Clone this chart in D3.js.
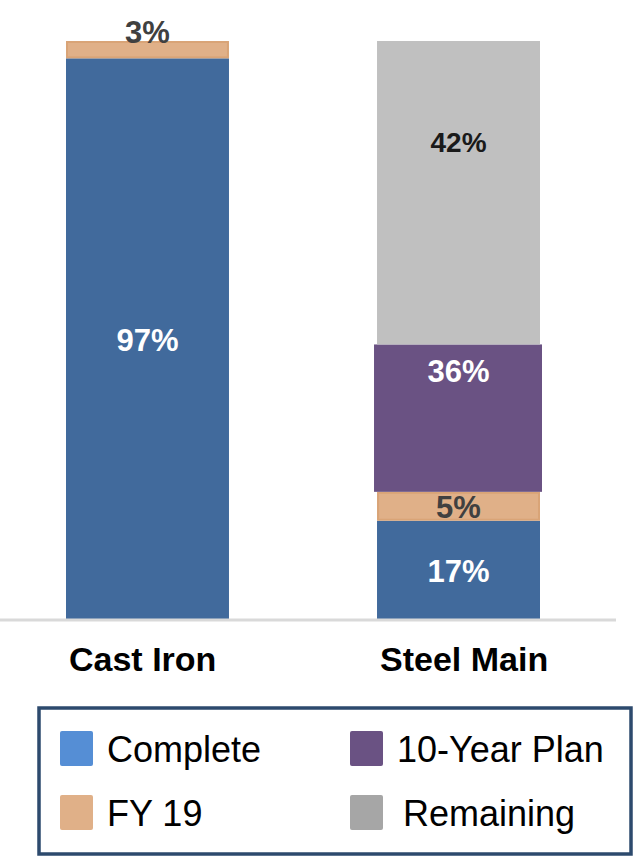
<!DOCTYPE html>
<html>
<head>
<meta charset="utf-8">
<script src="https://cdn.jsdelivr.net/npm/d3@7"></script>
<style>
  body { margin: 0; background: #fff; }
  text { font-family: "Liberation Sans", Arial, sans-serif; }
</style>
</head>
<body>
<svg id="chart" width="633" height="857"></svg>
<script>
// categories and segment values (as drawn, in % of bar height)
var categories = ["Cast Iron", "Steel Main"];
var seriesNames = ["Complete", "FY 19", "10-Year Plan", "Remaining"];
var complete = [97, 17];
var fy19 = [3, 5];
var tenYearPlan = [0, 25.5];
var remaining = [0, 52.5];
// labels as printed on the chart
var completeLabels = ["97%", "17%"];
var fy19Labels = ["3%", "5%"];
var planLabels = ["", "36%"];
var remainingLabels = ["", "42%"];

var barColors = ["#416a9c", "#e0b088", "#6a5283", "#c0c0c0"];
var legendColors = ["#558ed5", "#e0b088", "#6a5283", "#a6a6a6"];
var labelColors = ["#ffffff", "#404040", "#ffffff", "#1a1a1a"];

var svg = d3.select("#chart");

var rows = categories.map(function (c, i) {
    return {
        cat: c,
        "Complete": complete[i],
        "FY 19": fy19[i],
        "10-Year Plan": tenYearPlan[i],
        "Remaining": remaining[i],
        labels: [completeLabels[i], fy19Labels[i], planLabels[i], remainingLabels[i]]
    };
});

var x = d3.scaleBand().domain(categories).range([66, 540]).paddingInner(0.476).paddingOuter(0);
var y = d3.scaleLinear().domain([0, 100]).range([619, 41]);

var layers = d3.stack().keys(seriesNames)(rows);

var g = svg.append("g");

layers.forEach(function (layer, k) {
    layer.forEach(function (d) {
        if (d[1] - d[0] <= 0) return;
        var x0 = x(d.data.cat), w = x.bandwidth();
        if (seriesNames[k] === "10-Year Plan") { x0 -= 3; w += 5; } // the plan box sits a bit wider
        var r = g.append("rect")
            .attr("x", x0)
            .attr("y", y(d[1]))
            .attr("width", w)
            .attr("height", y(d[0]) - y(d[1]))
            .attr("fill", barColors[k]);
        if (seriesNames[k] === "FY 19") {
            r.attr("stroke", "#d9a477").attr("stroke-width", 2)
             .attr("x", x0 + 1).attr("width", w - 2)
             .attr("y", y(d[1]) + 1).attr("height", y(d[0]) - y(d[1]) - 2);
        }
    });
});

// baseline
svg.append("line")
    .attr("x1", 0).attr("x2", 616)
    .attr("y1", 620).attr("y2", 620)
    .attr("stroke", "#d9d9d9").attr("stroke-width", 3);

// value labels
layers.forEach(function (layer, k) {
    layer.forEach(function (d) {
        var txt = d.data.labels[k];
        if (!txt) return;
        var top = y(d[1]), bottom = y(d[0]);
        var ly = (top + bottom) / 2 + 12;
        var size = 31;
        if (seriesNames[k] === "FY 19" && d[1] - d[0] < 4) ly = top + 2;
        if (seriesNames[k] === "10-Year Plan") ly = top + 38;
        if (seriesNames[k] === "Remaining") { ly = top + 111; size = 28; }
        svg.append("text")
            .attr("x", x(d.data.cat) + x.bandwidth() / 2)
            .attr("y", ly)
            .attr("text-anchor", "middle")
            .attr("font-size", size)
            .attr("font-weight", "bold")
            .attr("fill", labelColors[k])
            .text(txt);
    });
});

// category axis labels
svg.selectAll("text.cat").data(categories).enter().append("text")
    .attr("class", "cat")
    .attr("x", function (d) { return x(d) + 3; })
    .attr("y", 671)
    .attr("font-size", 34)
    .attr("font-weight", "bold")
    .attr("fill", "#000")
    .text(function (d) { return d; });

// legend
svg.append("rect")
    .attr("x", 39).attr("y", 708)
    .attr("width", 592).attr("height", 146)
    .attr("fill", "#fff")
    .attr("stroke", "#2d4a6d").attr("stroke-width", 3.5);

var legendPos = [[60, 731], [60, 795], [350, 731], [350, 795]];
seriesNames.forEach(function (name, k) {
    var p = legendPos[k];
    svg.append("rect")
        .attr("x", p[0]).attr("y", p[1])
        .attr("width", 33).attr("height", 35)
        .attr("rx", 2)
        .attr("fill", legendColors[k]);
    svg.append("text")
        .attr("x", p[0] + (name === "Remaining" ? 53 : 47))
        .attr("y", p[1] + 31)
        .attr("font-size", 36)
        .attr("fill", "#000")
        .text(name);
});
</script>
</body>
</html>
